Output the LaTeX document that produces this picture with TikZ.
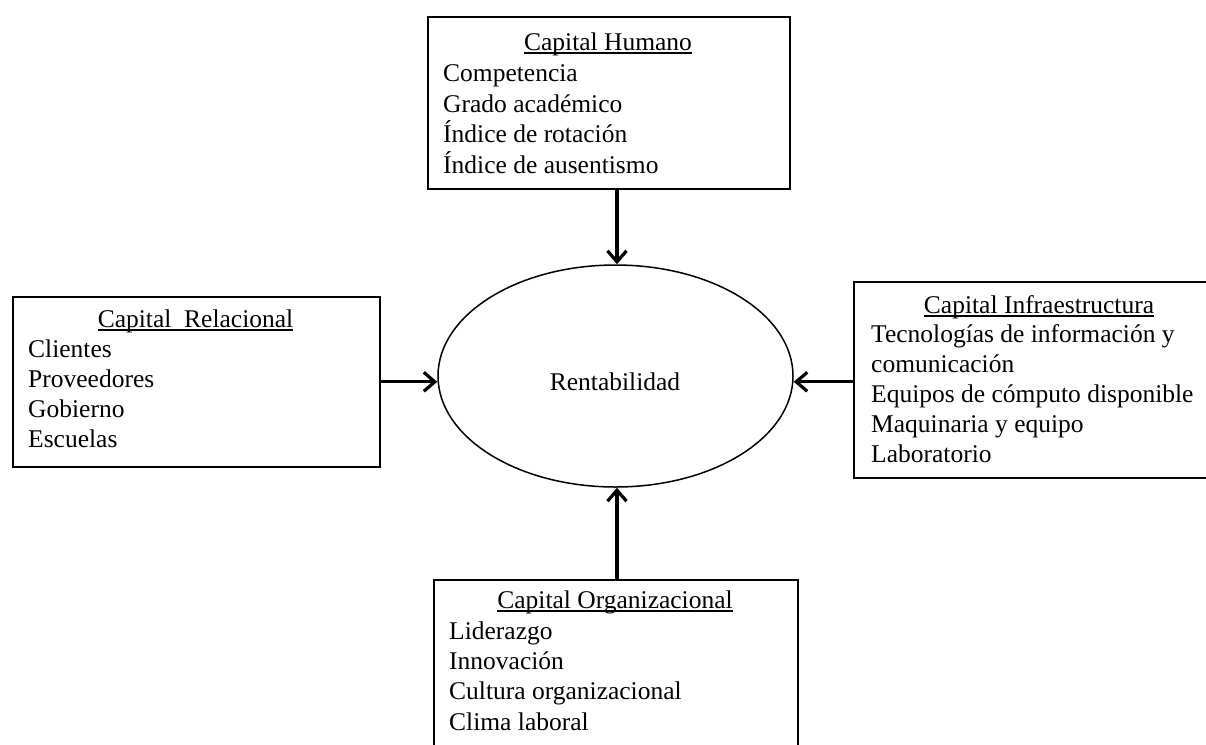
\documentclass[tikz,border=0pt]{standalone}
\usepackage{fontspec}
\setmainfont{Liberation Serif}
\usetikzlibrary{arrows.meta,shapes.geometric}
\begin{document}
\begin{tikzpicture}[x=1pt,y=-1pt,
  box/.style={draw, line width=1.6pt, rectangle, inner sep=0pt, anchor=north west},
  txt/.style={anchor=base west, inner sep=0pt, font=\fontsize{25.5}{30.5}\selectfont},
  ttl/.style={anchor=base, inner sep=0pt, font=\fontsize{25.5}{30.5}\selectfont},
  uline/.style={line width=1.1pt},
  arr/.style={line width=3.2pt, -{Straight Barb[length=11pt,width=19pt]}}]
\clip (0,0) rectangle (1206,744);
\fill[white] (0,0) rectangle (1206,744);

% central ellipse
\node[draw, ellipse, line width=1.5pt, minimum width=355pt, minimum height=222pt, inner sep=0pt] (R) at (615.5,376) {};
\node[ttl] (Rt) at (615,390) {Rentabilidad};

% Capital Humano (top)
\node[box, minimum width=362pt, minimum height=172pt] (hum) at (427,16) {};
\node[ttl] (humt) at (608,50) {Capital Humano};
\draw[uline] ([yshift=-3pt]humt.base west) -- ([yshift=-3pt]humt.base east);
\foreach \t [count=\i from 0] in {Competencia,Grado académico,Índice de rotación,Índice de ausentismo}
  \node[txt] (hum-\i) at (443,81.5+30.5*\i) {\t};

% Capital Relacional (left)
\node[box, minimum width=367pt, minimum height=170pt] (rel) at (12,296) {};
\node[ttl] (relt) at (195.5,327) {Capital~~Relacional};
\draw[uline] ([yshift=-3pt]relt.base west) -- ([yshift=-3pt]relt.base east);
\foreach \t [count=\i from 0] in {Clientes,Proveedores,Gobierno,Escuelas}
  \node[txt] (rel-\i) at (28,357+30.3*\i) {\t};

% Capital Infraestructura (right)
\node[box, minimum width=372pt, minimum height=196pt] (inf) at (853,281) {};
\node[ttl] (inft) at (1039,313) {Capital Infraestructura};
\draw[uline] ([yshift=-3pt]inft.base west) -- ([yshift=-3pt]inft.base east);
\foreach \t [count=\i from 0] in {Tecnologías de información y,comunicación,Equipos de cómputo disponible,Maquinaria y equipo,Laboratorio}
  \node[txt] (inf-\i) at (871,342+30*\i) {\t};

% Capital Organizacional (bottom)
\node[box, minimum width=364pt, minimum height=200pt] (org) at (433,579) {};
\node[ttl] (orgt) at (615,608) {Capital Organizacional};
\draw[uline] ([yshift=-3pt]orgt.base west) -- ([yshift=-3pt]orgt.base east);
\foreach \t [count=\i from 0] in {Liderazgo,Innovación,Cultura organizacional,Clima laboral}
  \node[txt] (org-\i) at (449,639+30.4*\i) {\t};

% connectors
\coordinate (topin) at ([xshift=1.5pt]R.north);
\coordinate (botin) at ([xshift=1.5pt]R.south);
\draw[arr] (topin |- hum.south) -- (topin);
\draw[arr] (botin |- org.north) -- (botin);
\draw[arr] (rel.east) -- (rel.east -| R.west);
\draw[arr] (inf.west |- rel.east) -- (rel.east -| R.east);
\end{tikzpicture}
\end{document}
